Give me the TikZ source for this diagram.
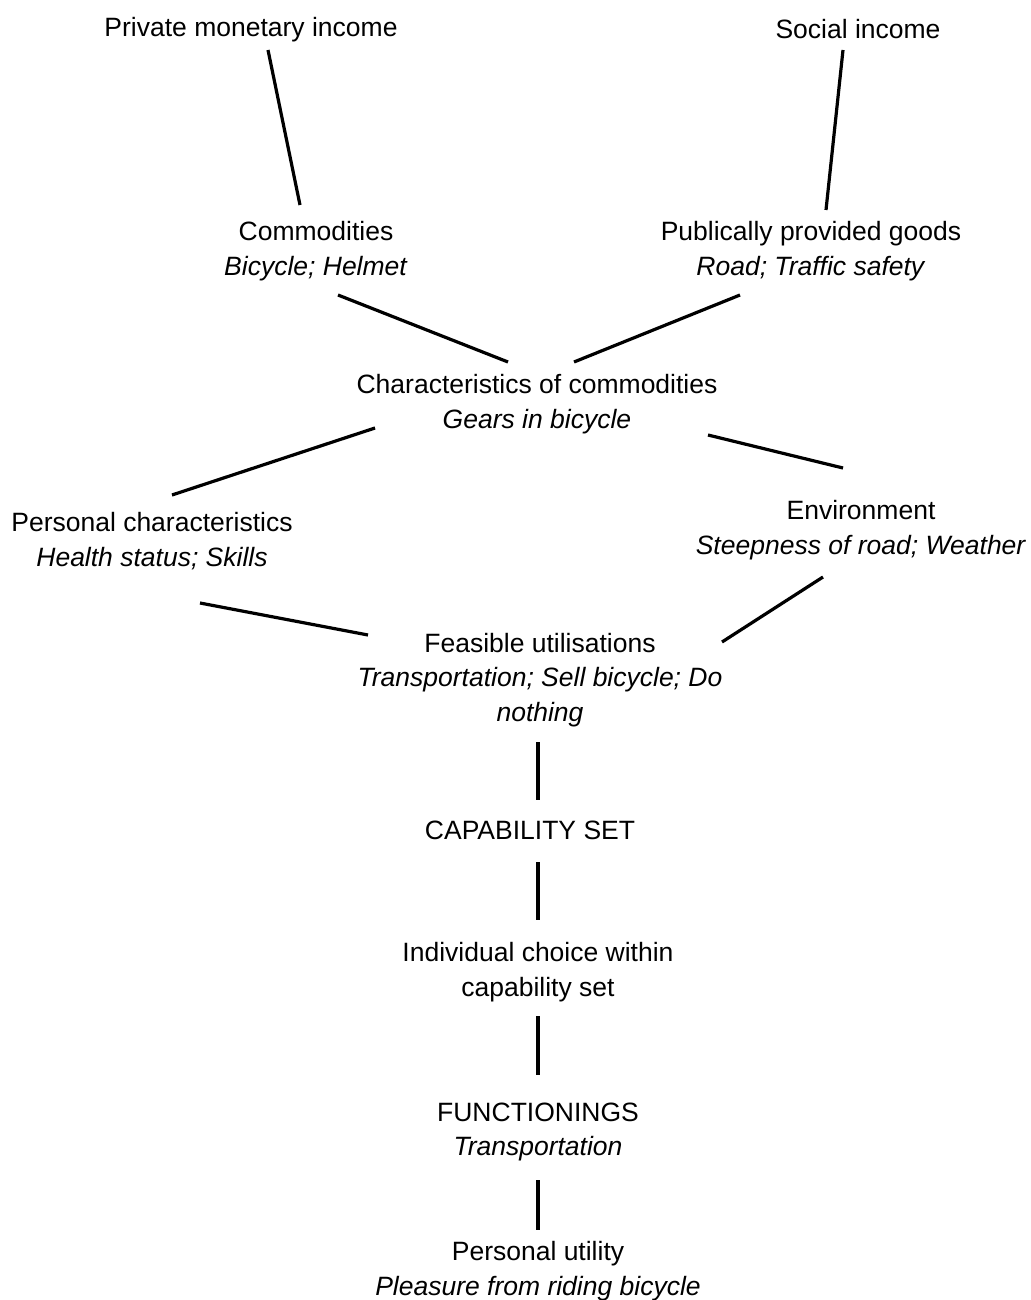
\documentclass[tikz,border=0pt]{standalone}
\usepackage{fontspec}
\setmainfont{Liberation Sans}
\usetikzlibrary{calc}
\begin{document}
\begin{tikzpicture}[x=1pt,y=-1pt,
  lbl/.style={inner sep=0pt,align=center,font=\fontsize{26.5}{34.5}\selectfont},
  conn/.style={line width=3.2pt}]
\useasboundingbox[fill=white] (0,0) rectangle (1030,1300);
\node[lbl] (pmi) at (251,30) {Private monetary income};
\node[lbl] (soc) at (858,29) {Social income};
\node[lbl] (comm) at (316,251) {Commodities\\\textit{Bicycle; Helmet}};
\node[lbl] (pub) at (811,251) {Publically provided goods\\\textit{Road; Traffic safety}};
\node[lbl] (char) at (537,404) {Characteristics of commodities\\\textit{Gears in bicycle}};
\node[lbl] (pers) at (152,541) {Personal characteristics\\\textit{Health status; Skills}};
\node[lbl] (env) at (861,530) {Environment\\\textit{Steepness of road; Weather}};
\node[lbl] (feas) at (540,680) {Feasible utilisations\\\textit{Transportation; Sell bicycle; Do}\\\textit{nothing}};
\node[lbl] (cap) at (530,830) {CAPABILITY SET};
\node[lbl] (ind) at (538,972) {Individual choice within\\capability set};
\node[lbl] (func) at (538,1132) {FUNCTIONINGS\\\textit{Transportation}};
\node[lbl] (util) at (538,1271) {Personal utility\\\textit{Pleasure from riding bicycle}};
\draw[conn] ($(pmi)+(17,20)$) -- ($(comm)+(-16,-46)$);
\draw[conn] ($(soc)+(-15,21)$) -- ($(pub)+(15,-41)$);
\draw[conn] ($(comm)+(22,44)$) -- ($(char)+(-29,-42)$);
\draw[conn] ($(pub)+(-71,44)$) -- ($(char)+(37,-42)$);
\draw[conn] ($(char)+(-162,24)$) -- ($(pers)+(20,-46)$);
\draw[conn] ($(char)+(171,31)$) -- ($(env)+(-18,-62)$);
\draw[conn] ($(pers)+(48,62)$) -- ($(feas)+(-172,-45)$);
\draw[conn] ($(env)+(-38,47)$) -- ($(feas)+(182,-38)$);
\draw[conn] ($(feas)+(-2,62)$) -- ($(cap)+(8,-30)$);
\draw[conn] ($(cap)+(8,32)$) -- ($(ind)+(0,-52)$);
\draw[conn] ($(ind)+(0,44)$) -- ($(func)+(0,-57)$);
\draw[conn] ($(func)+(0,48)$) -- ($(util)+(0,-41)$);
\end{tikzpicture}
\end{document}
